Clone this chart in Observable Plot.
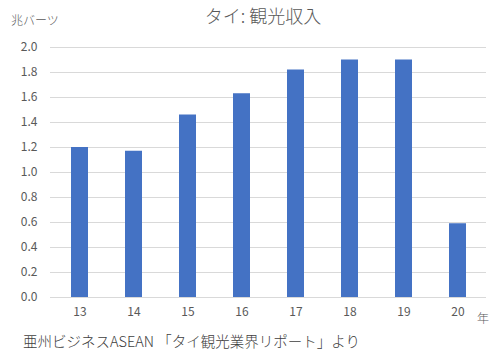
<!DOCTYPE html>
<html><head><meta charset="utf-8">
<script src="https://cdn.jsdelivr.net/npm/d3@7"></script>
<script src="https://cdn.jsdelivr.net/npm/@observablehq/plot@0.6"></script>
<style>
body{margin:0;background:#fff;font-family:"Noto Sans CJK JP",sans-serif;}
#wrap{position:relative;width:503px;height:360px;overflow:hidden;}
#title{position:absolute;left:0;width:503px;top:2px;text-align:center;padding-left:23px;box-sizing:border-box;font-size:18px;color:#595959;font-weight:300;}
#ylab{position:absolute;left:11px;top:11px;font-size:12px;color:#595959;font-weight:300;}
#unit{position:absolute;left:477px;top:309px;font-size:12px;color:#595959;font-weight:300;}
#cap{position:absolute;left:23px;top:330px;font-size:14.5px;color:#404040;font-weight:300;line-height:21px;}
#chart{position:absolute;left:0;top:0;}
</style></head>
<body><div id="wrap">
<div id="chart"></div>
<div id="title">タイ: 観光収入</div>
<div id="ylab">兆バーツ</div>
<div id="unit">年</div>
<div id="cap">亜州ビジネスASEAN 「タイ観光業界リポート」より</div>
</div>
<script>
const years = ["13","14","15","16","17","18","19","20"];
const revenue = [1.20, 1.17, 1.46, 1.63, 1.82, 1.90, 1.90, 0.59];
const yTicks = [0,0.2,0.4,0.6,0.8,1.0,1.2,1.4,1.6,1.8,2.0];
const data = years.map((y,i)=>({year:y, value:revenue[i]}));
const chart = Plot.plot({
  width: 503, height: 325,
  marginTop: 47, marginBottom: 28, marginLeft: 50, marginRight: 17,
  style: {fontFamily: '"Noto Sans CJK JP", sans-serif', fontSize: "12px", color: "#595959", background: "transparent"},
  x: {domain: years, paddingInner: 0.69, paddingOuter: 0.345, label: null, tickSize: 0, tickPadding: 10},
  y: {domain: [0, 2], ticks: yTicks, label: null, tickSize: 0, tickPadding: 13, tickFormat: d3.format(".1f")},
  marks: [
    Plot.gridY(yTicks, {stroke: "#d9d9d9", strokeOpacity: 1, strokeWidth: 1}),
    Plot.barY(data, {x: "year", y: "value", fill: "#4472C4"})
  ]
});
document.getElementById("chart").appendChild(chart);
</script>
</body></html>
